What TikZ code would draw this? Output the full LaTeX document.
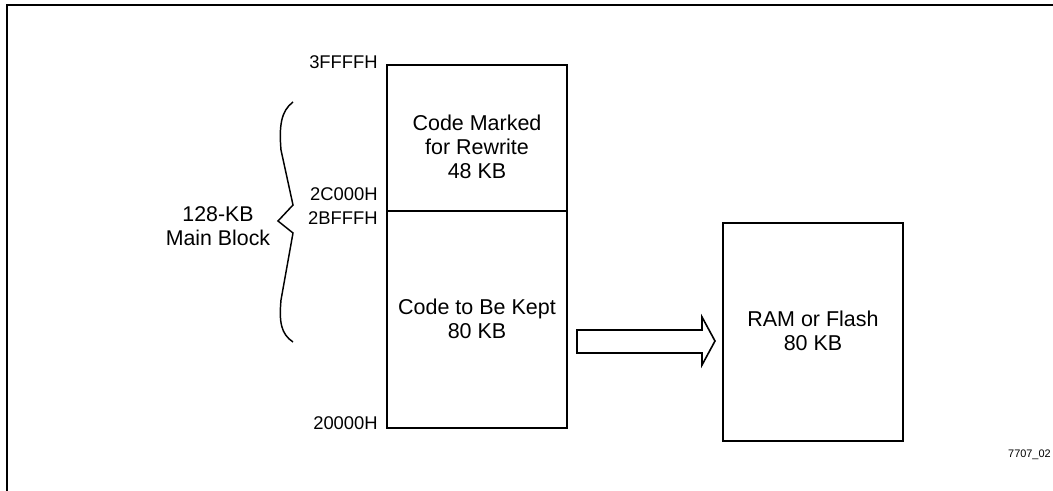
\documentclass[tikz,border=0pt]{standalone}
\usepackage{fontspec}
\setmainfont{Liberation Sans}
\begin{document}
\begin{tikzpicture}[x=0.75pt,y=-0.75pt,
  frame/.style={line width=1.5pt},
  blockline/.style={line width=1.4pt},
  boxtext/.style={align=center,font=\fontsize{16.1}{18}\selectfont,inner sep=0pt},
  addr/.style={anchor=east,font=\fontsize{13.8}{16}\selectfont,inner sep=0pt},
  bracetext/.style={align=center,font=\fontsize{16}{18}\selectfont,inner sep=0pt},
  bigarrow/.style={draw,line width=1.2pt,line join=miter,fill=white}]
\useasboundingbox (0,0) rectangle (1053,491);

% outer frame (top and left edges)
\draw[frame] (7,491) -- (7,5) -- (1053,5);

% memory block
\coordinate (mtl) at (387,65);
\coordinate (mtr) at (567,65);
\coordinate (mdl) at (387,211);
\coordinate (mdr) at (567,211);
\coordinate (mbl) at (387,428);
\coordinate (mbr) at (567,428);
\draw[blockline] (mtl) -- (mtr) -- (mbr) -- (mbl) -- cycle;
\draw[blockline] (mdl) -- (mdr);

\node[boxtext] (upper) at (477,147) {Code Marked\\for Rewrite\\48 KB};
\node[boxtext] (lower) at (477,319) {Code to Be Kept\\80 KB};

% address labels
\node[addr] (a3) at (378,62) {3FFFFH};
\node[addr] (a2c) at (378,194) {2C000H};
\node[addr] (a2b) at (378,218) {2BFFFH};
\node[addr] (a20) at (378,423) {20000H};

% brace with its label
\draw[line width=1.1pt,line join=miter]
  (293,102) .. controls (281,111) and (279,126) .. (281,150)
  -- (293,205) -- (278,221) -- (293,233)
  -- (281,300) .. controls (279,322) and (281,334) .. (293,342);
\node[bracetext] (mainblk) at (218,226) {128-KB\\Main Block};

% target memory
\coordinate (rtl) at (723,223);
\coordinate (rbr) at (903,441);
\draw[blockline] (rtl) rectangle (rbr);
\node[boxtext] (ramtxt) at (813,331) {RAM or Flash\\80 KB};

% block arrow
\draw[bigarrow] (577,330) -- (702,330) -- (702,317) -- (715,341)
  -- (702,365) -- (702,353) -- (577,353) -- cycle;

% figure number
\node[anchor=east,font=\fontsize{8.2}{10}\selectfont,inner sep=0pt] (fig) at (1051,455) {7707\_02};
\end{tikzpicture}
\end{document}
